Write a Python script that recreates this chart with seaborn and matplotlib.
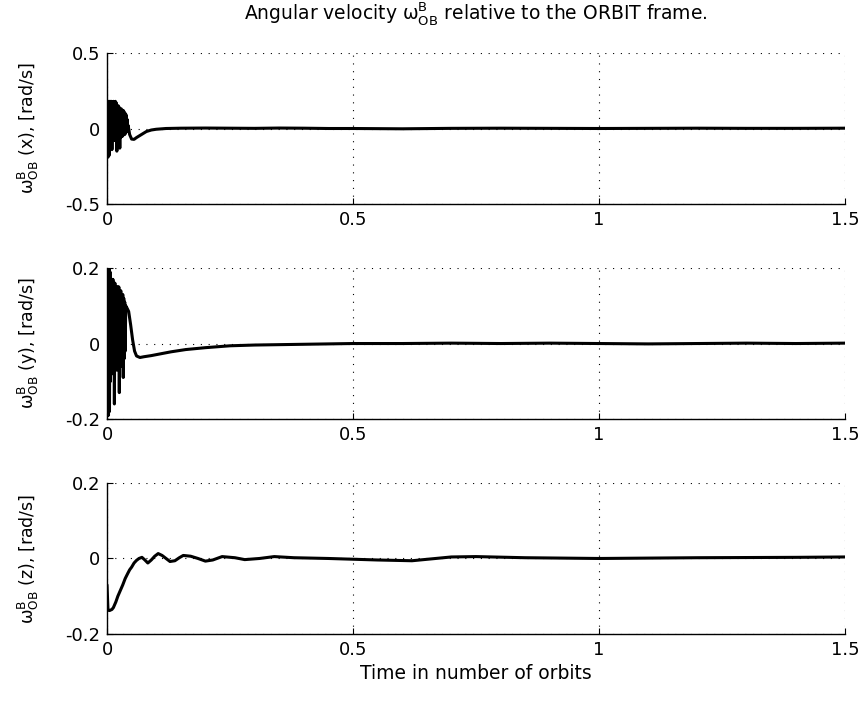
import matplotlib
matplotlib.use("Agg")
import matplotlib.pyplot as plt
import seaborn as sns
import pandas as pd

# ---------------- data ----------------
t_x = [0.000, 0.001, 0.002, 0.003, 0.004, 0.005, 0.006, 0.007, 0.008, 0.009,
       0.010, 0.011, 0.012, 0.013, 0.014, 0.015, 0.016, 0.017, 0.018, 0.019,
       0.020, 0.021, 0.022, 0.023, 0.024, 0.025, 0.026, 0.027, 0.028, 0.029,
       0.030, 0.031, 0.032, 0.033, 0.034, 0.035, 0.036, 0.037, 0.038, 0.039,
       0.040, 0.041, 0.042, 0.043, 0.046, 0.050, 0.055, 0.060, 0.070, 0.080,
       0.090, 0.100, 0.120, 0.150, 0.200, 0.250, 0.300, 0.350, 0.400, 0.450,
       0.500, 0.600, 0.700, 0.800, 0.900, 1.000, 1.100, 1.200, 1.300, 1.400, 1.500]
w_x = [0.00, 0.17, -0.19, 0.18, -0.18, 0.18, -0.10, 0.18, -0.09, 0.18,
       -0.14, 0.17, -0.08, 0.18, -0.07, 0.17, -0.08, 0.18, -0.07, 0.17,
       -0.15, 0.15, -0.07, 0.15, -0.06, 0.14, -0.13, 0.13, -0.06, 0.13,
       -0.05, 0.12, -0.05, 0.12, -0.04, 0.11, -0.04, 0.10, -0.03, 0.09,
       -0.02, 0.06, -0.01, 0.02, -0.04, -0.07, -0.072, -0.06, -0.04, -0.02,
       -0.01, -0.005, 0.000, 0.002, 0.003, 0.002, 0.001, 0.003, 0.002, 0.000,
       0.000, -0.002, 0.001, 0.002, 0.001, 0.000, 0.001, 0.002, 0.001, 0.001, 0.002]

t_y = [0.000, 0.001, 0.002, 0.003, 0.004, 0.005, 0.006, 0.007, 0.008, 0.009,
       0.010, 0.011, 0.012, 0.013, 0.014, 0.015, 0.016, 0.017, 0.018, 0.019,
       0.020, 0.021, 0.022, 0.023, 0.024, 0.025, 0.026, 0.027, 0.028, 0.029,
       0.030, 0.031, 0.032, 0.033, 0.034, 0.035, 0.036, 0.037, 0.038, 0.041,
       0.044, 0.048, 0.052, 0.056, 0.060, 0.067, 0.075, 0.090, 0.110, 0.130,
       0.160, 0.200, 0.250, 0.300, 0.400, 0.500, 0.600, 0.700, 0.800, 0.900,
       1.000, 1.100, 1.200, 1.300, 1.400, 1.500]
w_y = [0.20, -0.19, 0.20, -0.19, 0.20, -0.18, 0.19, -0.10, 0.17, -0.08,
       0.17, -0.08, 0.17, -0.07, 0.16, -0.16, 0.16, -0.07, 0.15, -0.07,
       0.15, -0.07, 0.15, -0.06, 0.15, -0.13, 0.14, -0.06, 0.14, -0.06,
       0.13, -0.05, 0.13, -0.09, 0.12, -0.04, 0.11, -0.02, 0.10, 0.093,
       0.085, 0.05, 0.01, -0.02, -0.033, -0.037, -0.035, -0.032, -0.027, -0.022,
       -0.016, -0.011, -0.006, -0.004, -0.002, 0.000, 0.000, 0.001, 0.000, 0.001,
       0.000, -0.001, 0.000, 0.001, 0.000, 0.001]

t_z = [0.000, 0.002, 0.005, 0.010, 0.013, 0.018, 0.022, 0.027, 0.032, 0.037,
       0.042, 0.046, 0.050, 0.055, 0.060, 0.065, 0.071, 0.077, 0.083, 0.090,
       0.097, 0.104, 0.112, 0.120, 0.128, 0.138, 0.147, 0.155, 0.170, 0.185,
       0.200, 0.215, 0.234, 0.260, 0.280, 0.310, 0.340, 0.380, 0.450, 0.550,
       0.620, 0.700, 0.750, 0.850, 1.000, 1.200, 1.400, 1.500]
w_z = [-0.070, -0.137, -0.138, -0.135, -0.130, -0.115, -0.100, -0.085, -0.070, -0.053,
       -0.040, -0.030, -0.023, -0.012, -0.005, 0.000, 0.003, -0.004, -0.012, -0.004,
       0.006, 0.013, 0.008, 0.000, -0.008, -0.006, 0.002, 0.008, 0.006, 0.000,
       -0.007, -0.004, 0.005, 0.002, -0.003, 0.000, 0.005, 0.002, 0.000, -0.004,
       -0.006, 0.004, 0.005, 0.002, 0.000, 0.002, 0.003, 0.004]

components = ["x", "y", "z"]
ylims = [(-0.5, 0.5), (-0.2, 0.2), (-0.2, 0.2)]
yticks = [[-0.5, 0, 0.5], [-0.2, 0, 0.2], [-0.2, 0, 0.2]]
ytick_labels = [["-0.5", "0", "0.5"], ["-0.2", "0", "0.2"], ["-0.2", "0", "0.2"]]
xticks = [0, 0.5, 1, 1.5]
xtick_labels = ["0", "0.5", "1", "1.5"]
omega = r"ω$^{\mathrm{B}}_{\mathrm{OB}}$"
title = "Angular velocity " + omega + " relative to the ORBIT frame."
xlabel = "Time in number of orbits"

# ---------------- plotting ----------------
sns.set_style("white")
plt.rcParams["font.family"] = ["DejaVu Sans"]
plt.rcParams["mathtext.fontset"] = "dejavusans"

fig = plt.figure(figsize=(8.63, 7.02), dpi=100)
left, width = 0.124, 0.855
bottoms = [0.7094, 0.4031, 0.0969]
height = 0.2151

series = [(t_x, w_x), (t_y, w_y), (t_z, w_z)]
for i, (tt, ww) in enumerate(series):
    ax = fig.add_axes([left, bottoms[i], width, height])
    df = pd.DataFrame({"t": tt, "w": ww})
    sns.lineplot(data=df, x="t", y="w", ax=ax, color="black", linewidth=2.2,
                 estimator=None, sort=False)
    ax.set_xlim(0, 1.5)
    ax.set_ylim(*ylims[i])
    ax.set_xticks(xticks)
    ax.set_xticklabels(xtick_labels)
    ax.set_yticks(yticks[i])
    ax.set_yticklabels(ytick_labels[i])
    ax.grid(True, color="black", linestyle=(0, (1, 6)), linewidth=0.8)
    for s in ["top", "right"]:
        ax.spines[s].set_visible(False)
    for s in ["left", "bottom"]:
        ax.spines[s].set_color("black")
        ax.spines[s].set_linewidth(1.0)
    ax.tick_params(direction="in", length=4, width=0.8, colors="black",
                   labelsize=13, left=True, bottom=True, pad=5)
    ax.set_ylabel(omega + " (" + components[i] + "), [rad/s]",
                  fontsize=12.5, color="black", labelpad=17)
    ax.set_xlabel("")
    if i == 0:
        ax.set_title(title, fontsize=13.5, color="black", pad=24)
    if i == 2:
        ax.set_xlabel(xlabel, fontsize=13.5, color="black", labelpad=4)

fig.savefig("out.png", dpi=100)
